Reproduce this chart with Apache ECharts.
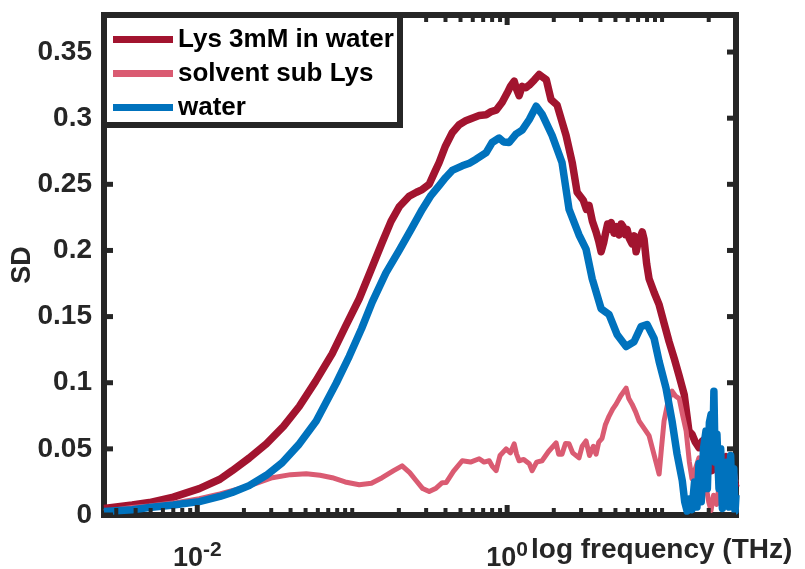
<!DOCTYPE html>
<html><head><meta charset="utf-8">
<script src="https://cdn.jsdelivr.net/npm/echarts@6/dist/echarts.min.js"></script>
<style>html,body{margin:0;padding:0;background:#fff}#c{width:805px;height:569px}</style>
</head><body><div id="c"></div>
<script>
// ---------- data ----------
const seriesNames = ['Lys 3mM in water', 'solvent sub Lys', 'water'];

const lysFreq = [0.0025,0.0038,0.0049,0.0070,0.0103,0.0140,0.0168,0.0216,0.0279,0.036,0.0455,0.058,0.0743,0.090,0.111,0.133,0.156,0.178,0.201,0.233,0.26,0.283,0.314,0.34,0.364,0.40,0.442,0.49,0.54,0.594,0.66,0.732,0.79,0.849,0.929,1.0,1.05,1.11,1.15,1.195,1.25,1.32,1.39,1.5,1.61,1.70,1.79,1.92,2.10,2.25,2.40,2.63,2.83,3.1,3.25,3.38,3.55,3.75,3.9,4.04,4.2,4.3,4.45,4.55,4.7,4.9,5.1,5.28,5.45,5.6,5.8,5.94,6.15,6.4,6.6,6.80,7.0,7.2,7.45,7.65,7.95,8.24,8.9,9.57,10.3,11.1,12.0,12.9,13.9,14.9,15.6,16.4,17.3,18.2,19.2,20.1,21.0,22.1,23.3,24.5,25.8,27.1,28.5,30];
const lysSD = [0.005,0.0075,0.0094,0.0135,0.0199,0.027,0.0335,0.043,0.0538,0.067,0.082,0.101,0.122,0.142,0.1635,0.186,0.206,0.222,0.233,0.241,0.244,0.246,0.250,0.259,0.2665,0.279,0.289,0.295,0.298,0.300,0.302,0.3026,0.305,0.306,0.312,0.319,0.324,0.328,0.322,0.317,0.324,0.323,0.325,0.329,0.333,0.331,0.329,0.314,0.310,0.298,0.287,0.2665,0.244,0.238,0.231,0.234,0.222,0.214,0.207,0.199,0.206,0.212,0.220,0.216,0.221,0.213,0.218,0.2117,0.220,0.218,0.212,0.216,0.209,0.205,0.211,0.199,0.206,0.207,0.214,0.2086,0.19,0.1786,0.168,0.159,0.145,0.131,0.118,0.105,0.091,0.0635,0.061,0.055,0.051,0.056,0.058,0.045,0.0335,0.040,0.046,0.041,0.044,0.039,0.030,0.021];

const solvFreq = [0.0025,0.0038,0.0049,0.0070,0.0103,0.0140,0.0187,0.024,0.0305,0.040,0.0505,0.062,0.0743,0.090,0.111,0.133,0.156,0.185,0.210,0.235,0.259,0.285,0.314,0.345,0.381,0.404,0.45,0.513,0.58,0.66,0.71,0.766,0.80,0.849,0.90,0.985,1.05,1.11,1.15,1.195,1.28,1.39,1.45,1.55,1.68,1.85,2.07,2.15,2.26,2.38,2.51,2.65,2.91,3.05,3.23,3.4,3.6,3.75,3.9,4.10,4.3,4.55,4.8,5.05,5.4,5.86,6.1,6.40,6.75,7.11,7.6,8.24,8.9,9.57,9.9,10.3,10.9,11.6,12.2,12.9,13.6,14.3,15.0,15.6,16.4,17.3,18.2,19.2,20.0,20.7,21.5,22.5,23.5,24.5,26,27.5,29,30];
const solvSD = [0.0026,0.0056,0.0068,0.0090,0.0124,0.016,0.0199,0.024,0.0282,0.0305,0.0312,0.030,0.0282,0.025,0.0229,0.024,0.0282,0.0335,0.0372,0.032,0.0259,0.020,0.0177,0.020,0.0244,0.0245,0.033,0.041,0.040,0.0425,0.040,0.041,0.037,0.0335,0.045,0.05,0.047,0.0538,0.046,0.041,0.042,0.0387,0.0335,0.040,0.041,0.048,0.0545,0.046,0.046,0.054,0.0538,0.047,0.0432,0.052,0.056,0.045,0.052,0.046,0.055,0.058,0.068,0.0748,0.080,0.0838,0.090,0.0959,0.088,0.0838,0.078,0.071,0.066,0.060,0.045,0.031,0.050,0.071,0.085,0.0936,0.090,0.088,0.075,0.0635,0.040,0.0274,0.035,0.0432,0.030,0.022,0.010,0.0034,0.015,0.008,0.025,0.012,0.030,0.020,0.035,0.025];

const waterFreq = [0.0025,0.0038,0.0049,0.0070,0.0103,0.0140,0.0168,0.0216,0.0279,0.0353,0.045,0.0586,0.0788,0.0957,0.115,0.1346,0.165,0.201,0.24,0.283,0.32,0.364,0.40,0.442,0.513,0.57,0.631,0.732,0.80,0.888,0.95,1.03,1.14,1.25,1.39,1.54,1.68,1.95,2.26,2.51,2.91,3.23,3.54,4.04,4.55,5.12,5.86,6.59,7.32,8.0,8.88,9.57,10.6,11.6,12.5,13.5,14.0,14.5,15.0,15.6,16.2,16.8,17.3,17.9,18.5,19.2,19.6,20.2,20.7,21.2,21.6,22.0,22.6,23.3,23.9,24.5,25.1,25.8,26.4,27.1,27.7,28.3,29.0,29.6,30];
const waterSD = [0.0026,0.0040,0.0056,0.0075,0.0101,0.0140,0.0170,0.0222,0.030,0.0395,0.053,0.071,0.0996,0.120,0.141,0.161,0.183,0.200,0.216,0.231,0.241,0.249,0.255,0.2605,0.264,0.266,0.269,0.274,0.2816,0.285,0.282,0.2816,0.288,0.291,0.299,0.309,0.303,0.287,0.2665,0.231,0.2117,0.201,0.1786,0.156,0.1515,0.1365,0.1274,0.131,0.1425,0.144,0.1335,0.116,0.096,0.071,0.046,0.026,0.010,0.003,0.012,0.004,0.025,0.006,0.039,0.010,0.050,0.0635,0.020,0.070,0.076,0.045,0.0936,0.040,0.061,0.020,0.050,0.005,0.0335,0.008,0.040,0.006,0.045,0.010,0.035,0.003,0.015];

// axis ticks / labels
const xLabelTicks = [0.01, 1];
const xMinorTicks = [0.003,0.004,0.005,0.006,0.007,0.008,0.009,0.02,0.03,0.04,0.05,0.06,0.07,0.08,0.09,0.1,0.2,0.3,0.4,0.5,0.6,0.7,0.8,0.9,2,3,4,5,6,7,8,9,10,20];
const yTicks = [0,0.05,0.1,0.15,0.2,0.25,0.3,0.35];

// ---------- chart ----------
const FONT = "'Liberation Sans', Arial, Helvetica, sans-serif";
const INK = '#262626';
const colors = ['#A2142F', '#DA5B72', '#0072BD'];
const X_MIN = 0.0025, X_MAX = 30, Y_MAX = 0.378;

function zip(a, b) { return a.map((x, i) => [x, b[i]]); }

// tick marks drawn through the axes' own scales (api.coord)
function xTickRenderer(len, w) {
  return function (params, api) {
    const v = api.value(0);
    const pb = api.coord([v, 0]);
    const pt = api.coord([v, Y_MAX]);
    return { type: 'group', children: [
      { type: 'rect', shape: { x: pb[0] - w / 2, y: pb[1] - len, width: w, height: len }, style: { fill: INK } },
      { type: 'rect', shape: { x: pt[0] - w / 2, y: pt[1], width: w, height: len }, style: { fill: INK } }
    ]};
  };
}
function yTickRenderer(len, w) {
  return function (params, api) {
    const v = api.value(1);
    const pl = api.coord([X_MIN, v]);
    const pr = api.coord([X_MAX, v]);
    return { type: 'group', children: [
      { type: 'rect', shape: { x: pl[0], y: pl[1] - w / 2, width: len, height: w }, style: { fill: INK } },
      { type: 'rect', shape: { x: pr[0] - len, y: pr[1] - w / 2, width: len, height: w }, style: { fill: INK } }
    ]};
  };
}

const option = {
  animation: false,
  backgroundColor: '#fff',
  grid: { left: 104, top: 15, right: 69, bottom: 54, show: true, containLabel: false, outerBoundsMode: 'none',
    borderColor: INK, borderWidth: 6, backgroundColor: 'transparent' },
  xAxis: {
    type: 'log', logBase: 10, min: X_MIN, max: X_MAX,
    axisLine: { show: false }, splitLine: { show: false }, axisTick: { show: false }, minorTick: { show: false },
    axisLabel: {
      show: true, customValues: xLabelTicks, margin: 25,
      formatter: v => '{b|10}{s|' + Math.round(Math.log10(v)) + '}',
      rich: {
        b: { fontSize: 27, fontWeight: 'bold', fontFamily: FONT, color: INK, lineHeight: 37 },
        s: { fontSize: 21, fontWeight: 'bold', fontFamily: FONT, color: INK, lineHeight: 21, verticalAlign: 'top' }
      }
    }
  },
  yAxis: {
    type: 'value', min: 0, max: Y_MAX,
    axisLine: { show: false }, splitLine: { show: false }, axisTick: { show: false },
    axisLabel: {
      show: true, customValues: yTicks, margin: 12,
      fontSize: 28, fontWeight: 'bold', fontFamily: FONT, color: INK,
      formatter: v => String(+v.toFixed(2))
    },
    name: 'SD', nameLocation: 'middle', nameGap: 68, nameRotate: 90, nameMoveOverlap: false,
    nameTextStyle: { fontSize: 27, fontWeight: 'bold', fontFamily: FONT, color: INK }
  },
  legend: {
    data: seriesNames, orient: 'vertical', left: 113, top: 26, padding: 0,
    icon: 'rect', itemWidth: 60, itemHeight: 7, itemGap: 7, z: 10,
    textStyle: { fontSize: 26, fontWeight: 'bold', fontFamily: FONT, color: '#000', lineHeight: 27 },
    selectedMode: false
  },
  graphic: [
    { type: 'rect', z: 9, shape: { x: 104, y: 15, width: 296, height: 110 },
      style: { fill: '#fff', stroke: INK, lineWidth: 6 } },
    { type: 'text', z: 9, x: 531, y: 536,
      style: { text: 'log frequency (THz)', fontSize: 28, fontWeight: 'bold', fontFamily: FONT,
        fill: INK, verticalAlign: 'top' } }
  ],
  series: [
    { name: seriesNames[0], type: 'line', data: zip(lysFreq, lysSD), showSymbol: false, symbol: 'none',
      z: 2, lineStyle: { color: colors[0], width: 7.5, join: 'round' }, itemStyle: { color: colors[0] } },
    { name: seriesNames[1], type: 'line', data: zip(solvFreq, solvSD), showSymbol: false, symbol: 'none',
      z: 3, lineStyle: { color: colors[1], width: 5, join: 'round' }, itemStyle: { color: colors[1] } },
    { name: seriesNames[2], type: 'line', data: zip(waterFreq, waterSD), showSymbol: false, symbol: 'none',
      z: 4, lineStyle: { color: colors[2], width: 7.5, join: 'round' }, itemStyle: { color: colors[2] } },
    { type: 'custom', renderItem: xTickRenderer(7, 4), data: xMinorTicks.map(v => [v, 0]),
      encode: { x: 0, y: 1 }, clip: false, silent: true, z: 6 },
    { type: 'custom', renderItem: xTickRenderer(10, 5), data: xLabelTicks.map(v => [v, 0]),
      encode: { x: 0, y: 1 }, clip: false, silent: true, z: 6 },
    { type: 'custom', renderItem: yTickRenderer(9, 5), data: yTicks.map(v => [X_MIN, v]),
      encode: { x: 0, y: 1 }, clip: false, silent: true, z: 6 }
  ]
};

const chart = echarts.init(document.getElementById('c'), null, { renderer: 'canvas' });
chart.setOption(option);
</script>
</body></html>
